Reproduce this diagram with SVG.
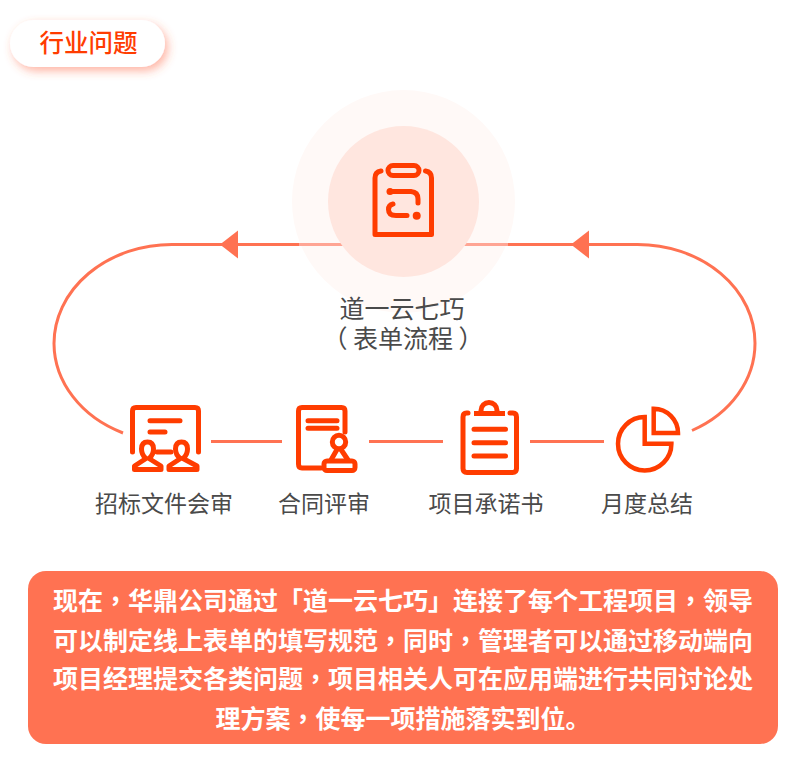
<svg xmlns="http://www.w3.org/2000/svg" width="794" height="760" viewBox="0 0 794 760">
<defs>
<style>
text{font-family:"Noto Sans CJK SC","Noto Sans",sans-serif}
.lbl{font-size:23px;fill:#4a4a4a;text-anchor:middle}
.t{font-size:25px;fill:#4a4a4a;text-anchor:middle}
.p{font-size:25px;font-weight:700;fill:#fff;text-anchor:middle}
.c{font-family:"Noto Sans CJK TC","Noto Sans",sans-serif}
.conn{fill:none;stroke:#ff7252;stroke-width:3}
.ic{fill:none;stroke:#ff3c00;stroke-width:5;stroke-linecap:round;stroke-linejoin:round}
.m{stroke-width:4.500;stroke-linecap:butt;stroke-linejoin:miter}
.dot{fill:#ff3c00}
</style>
<filter id="sh" x="-20%" y="-40%" width="140%" height="190%">
<feDropShadow dx="3" dy="4" stdDeviation="5" flood-color="#ff5a30" flood-opacity=".45"/>
</filter>
</defs>
<rect width="794" height="760" fill="#fff"/>
<g id="connectors">
<path class="conn" d="M123 433A118 99 0 0 1 54 343.500A118 99 0 0 1 172 244.500H240"/>
<path class="conn" d="M465 244.500H637.500A117.500 98.500 0 0 1 755 343A117.500 98.500 0 0 1 692 430.500"/>
<path fill="#ff7252" d="M238 230.500V258.500L220 244.500Z"/>
<path fill="#ff7252" d="M589 230.500V258.500L571 244.500Z"/>
<path class="conn" d="M230 244.500H300M507 244.500H580M211 441.500H282M369 441.500H443M530 441.500H604"/>
</g>
<g id="badge">
<rect x="10" y="20" width="155" height="47" rx="23.500" fill="#fff" filter="url(#sh)"/>
<text x="88.500" y="52" font-size="24.500" font-weight="500" fill="#ff3c00" text-anchor="middle">行业问题</text>
</g>
<g id="center">
<circle cx="403.500" cy="201.500" r="111.500" fill="#fff9f7"/>
<path fill="none" stroke="#ffa594" stroke-width="3" d="M299 244.500H345M462 244.500H508"/>
<circle cx="403.500" cy="201.500" r="75.500" fill="#ffe6df"/>
<path class="ic" d="M381 171Q375 172 375 178V234.500H431.500V178Q431.500 172 425.500 171"/>
<rect x="388" y="165.500" width="31" height="10" rx="5" class="ic"/>
<circle class="dot" cx="390" cy="191.500" r="3.500"/>
<path class="ic" d="M392 191.500H411Q418 192 418 199V203"/>
<path class="ic" d="M393 204Q388.500 205 388.500 209.500Q388.500 215.500 396 215.500H407"/>
<circle class="dot" cx="416.700" cy="215.700" r="4"/>
<text class="t" x="402" y="318">道一云七巧</text>
<text class="t" x="403" y="348">（ 表单流程 ）</text>
</g>
<g id="node1">
<path class="ic" d="M132.500 452V411Q132.500 407.500 136 407.500H195Q198.500 407.500 198.500 411V452"/>
<path class="ic" d="M150 420.700H180M150 432H165M157 452H171"/>
<path class="ic" d="M134.500 469.500V466L146 458.500Q141.500 455 141.500 449Q141.500 442 147.500 442Q153.500 442 153.500 449Q153.500 455 149 458.500L161 466V469.500Z"/>
<path class="ic" d="M169 469.500V466L180.500 458.500Q175.500 455 175.500 449Q175.500 442 181.500 442Q187.500 442 187.500 449Q187.500 455 183 458.500L197 466V469.500Z"/>
<text class="lbl" x="164" y="512">招标文件会审</text>
</g>
<g id="node2">
<path class="ic" d="M321 468H302Q298.500 468 298.500 464V411Q298.500 407.500 302 407.500H341.500Q345 407.500 345 411V432"/>
<path class="ic" d="M308 420.700H337M308 428.300H337"/>
<circle class="ic" cx="339" cy="442" r="6.700"/>
<path class="ic" d="M337 449.500L331 460M341 449.500L348 460"/>
<rect x="324" y="461" width="31" height="9.500" rx="3" class="ic"/>
<text class="lbl" x="324" y="512">合同评审</text>
</g>
<g id="node3">
<path class="ic" d="M468 413H466.500Q463 413 463 417V468.500Q463 472.500 467 472.500H512.500Q516.500 472.500 516.500 468.500V417Q516.500 413 513 413H510"/>
<path class="ic" style="stroke-linecap:butt" d="M474 413.500H505"/>
<path class="ic" d="M481 412V410.500A8 8 0 0 1 497 410.500V412"/>
<path class="ic" d="M474 429.300H505.500M474 442.700H505.500M474 456H505.500"/>
<text class="lbl" x="486" y="512">项目承诺书</text>
</g>
<g id="node4">
<path class="ic m" d="M644.700 417A26.700 26.700 0 1 0 671.400 443.700H644.700Z"/>
<path class="ic m" d="M653.700 408.700A24.300 24.300 0 0 1 678 433H653.700Z"/>
<text class="lbl" x="647" y="512">月度总结</text>
</g>
<g id="summary">
<rect x="28" y="571" width="750" height="173" rx="18" fill="#ff7252"/>
<text class="p" x="403" y="610">现在<tspan class="c">，</tspan>华鼎公司通过「道一云七巧」连接了每个工程项目<tspan class="c">，</tspan>领导</text>
<text class="p" x="403" y="650">可以制定线上表单的填写规范<tspan class="c">，</tspan>同时<tspan class="c">，</tspan>管理者可以通过移动端向</text>
<text class="p" x="403" y="688">项目经理提交各类问题<tspan class="c">，</tspan>项目相关人可在应用端进行共同讨论处</text>
<text class="p" x="403" y="728">理方案<tspan class="c">，</tspan>使每一项措施落实到位。</text>
</g>
</svg>
